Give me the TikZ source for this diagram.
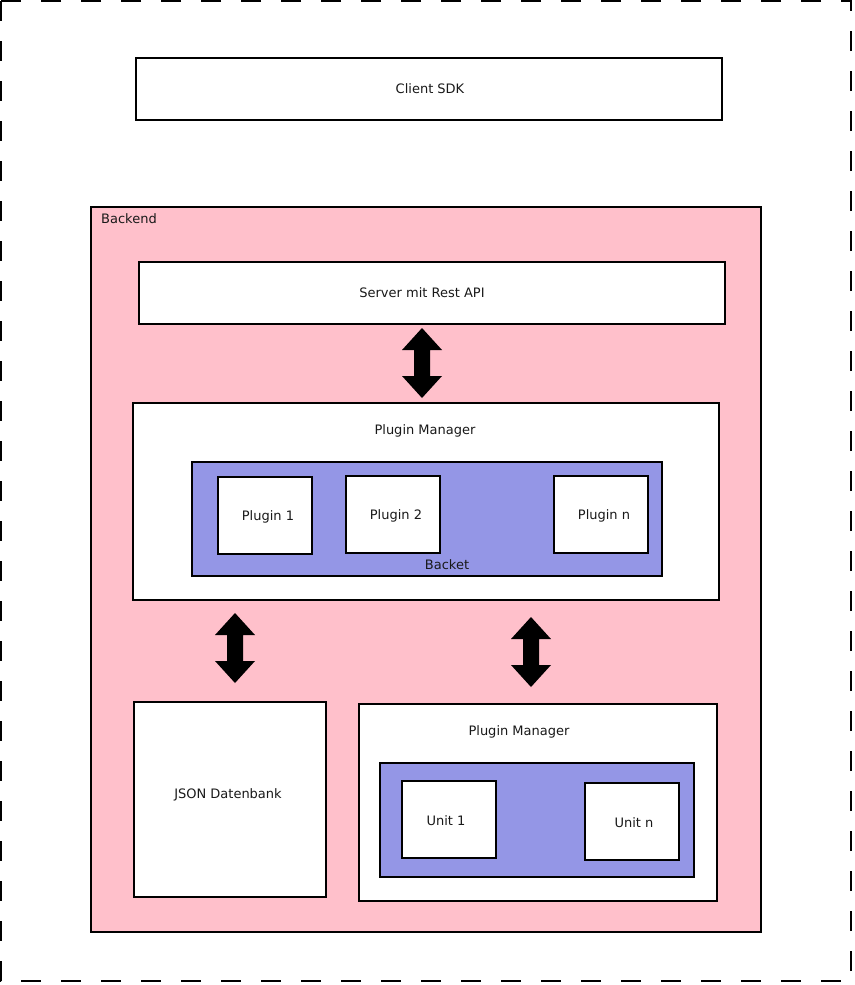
\documentclass[tikz,border=0pt]{standalone}
\usepackage{fontspec}
\setmainfont{DejaVu Sans}
\definecolor{pinkbg}{RGB}{255,192,203}
\definecolor{backet}{RGB}{148,150,230}
\begin{document}
\begin{tikzpicture}[x=1pt,y=-1pt,
  box/.style={draw=black,line width=2pt,fill=white},
  lbl/.style={font=\fontsize{13}{15}\selectfont,inner sep=0pt,text=black!90},
  dblarrow/.pic={\fill[black] (0,-35) -- (20,-13) -- (8,-13) -- (8,13) -- (20,13) -- (0,35) -- (-20,13) -- (-8,13) -- (-8,-13) -- (-20,-13) -- cycle;}]
\useasboundingbox (0,0) rectangle (854,985);
\draw[line width=2pt,dash pattern=on 20pt off 20pt] (1,1) rectangle (851,981);
% Client SDK
\draw[box] (136,58) rectangle (722,120);
\node[lbl] (client) at (430,89) {Client SDK};
% Backend
\draw[line width=2pt,fill=pinkbg] (91,207) rectangle (761,932);
\node[lbl,anchor=west] (backend) at (101,219) {Backend};
% Server
\draw[box] (139,262) rectangle (725,324);
\node[lbl] (server) at (422,293) {Server mit Rest API};
\pic at (422,363) {dblarrow};
% Plugin Manager
\draw[box] (133,403) rectangle (719,600);
\node[lbl] (pm1) at (425,431) {Plugin Manager};
\draw[line width=2pt,fill=backet] (192,462) rectangle (662,576);
\node[lbl] (backet) at (447,565) {Backet};
\draw[box] (218,477) rectangle (312,554);
\node[lbl] (p1) at (268,517) {Plugin 1};
\draw[box] (346,476) rectangle (440,553);
\node[lbl] (p2) at (396,516) {Plugin 2};
\draw[box] (554,476) rectangle (648,553);
\node[lbl] (pn) at (604,516) {Plugin n};
% arrows
\pic at (235,648) {dblarrow};
\pic at (531,652) {dblarrow};
% JSON
\draw[box] (134,702) rectangle (326,897);
\node[lbl] (json) at (228,795) {JSON Datenbank};
% Plugin Manager 2
\draw[box] (359,704) rectangle (717,901);
\node[lbl] (pm2) at (519,732) {Plugin Manager};
\draw[line width=2pt,fill=backet] (380,763) rectangle (694,877);
\draw[box] (402,781) rectangle (496,858);
\node[lbl] (u1) at (446,821) {Unit 1};
\draw[box] (585,783) rectangle (679,860);
\node[lbl] (un) at (634,823) {Unit n};
\end{tikzpicture}
\end{document}
